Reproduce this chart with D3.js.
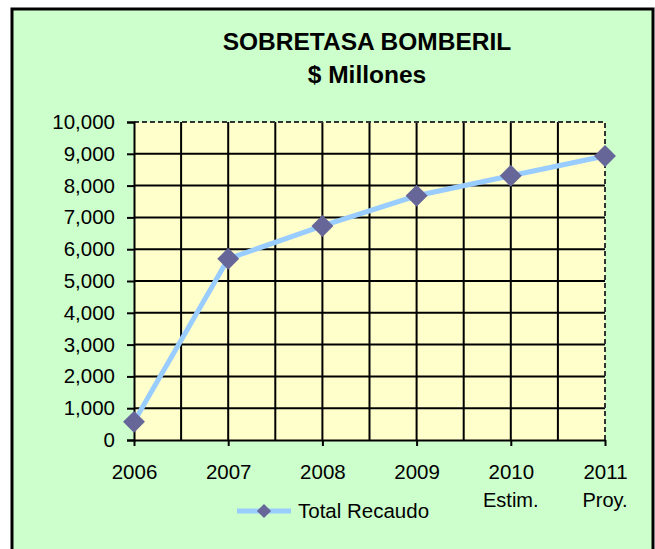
<!DOCTYPE html>
<html>
<head>
<meta charset="utf-8">
<script src="https://cdn.jsdelivr.net/npm/d3@7"></script>
<style>
  body { margin: 0; background: #fff; }
  svg { display: block; font-family: "Liberation Sans", Arial, sans-serif; }
</style>
</head>
<body>
<svg id="chart"></svg>
<script>
// data
var years = ["2006", "2007", "2008", "2009", "2010", "2011"];
var yearNotes = ["", "", "", "", "Estim.", "Proy."];
var recaudo = [570, 5700, 6730, 7680, 8310, 8930];
var yTicks = [0, 1000, 2000, 3000, 4000, 5000, 6000, 7000, 8000, 9000, 10000];
var seriesName = "Total Recaudo";

var svgWidth = 655, svgHeight = 549;
var plotL = 134, plotR = 605, plotT = 122, plotB = 440;

var svg = d3.select("#chart")
    .attr("width", svgWidth)
    .attr("height", svgHeight);

// outer frame
svg.append("rect")
    .attr("x", 12).attr("y", 9)
    .attr("width", 641).attr("height", 560)
    .attr("fill", "#ccffcc")
    .attr("stroke", "#000")
    .attr("stroke-width", 3);

// title
svg.append("text")
    .attr("x", 367).attr("y", 50)
    .attr("text-anchor", "middle")
    .attr("font-size", 24.5).attr("font-weight", "bold")
    .text("SOBRETASA BOMBERIL");
svg.append("text")
    .attr("x", 367).attr("y", 83)
    .attr("text-anchor", "middle")
    .attr("font-size", 24.5).attr("font-weight", "bold")
    .text("$ Millones");

var x = d3.scalePoint().domain(years).range([plotL, plotR]);
var y = d3.scaleLinear().domain([0, 10000]).range([plotB, plotT]);

// plot area
svg.append("rect")
    .attr("x", plotL).attr("y", plotT)
    .attr("width", plotR - plotL).attr("height", plotB - plotT)
    .attr("fill", "#ffffcc");

// horizontal gridlines
svg.append("g").selectAll("line")
    .data(yTicks.filter(function(d) { return d > 0 && d < 10000; }))
    .enter().append("line")
    .attr("x1", plotL).attr("x2", plotR)
    .attr("y1", function(d) { return y(d); })
    .attr("y2", function(d) { return y(d); })
    .attr("stroke", "#000").attr("stroke-width", 2);

// vertical gridlines at every half step
var step = x.step();
var vLines = [];
years.forEach(function(yr, i) {
  if (i > 0) vLines.push(x(yr));
  if (i < years.length - 1) vLines.push(x(yr) + step / 2);
});
svg.append("g").selectAll("line")
    .data(vLines.filter(function(v) { return v < plotR - 1; }))
    .enter().append("line")
    .attr("x1", function(d) { return d; })
    .attr("x2", function(d) { return d; })
    .attr("y1", plotT).attr("y2", plotB)
    .attr("stroke", "#000").attr("stroke-width", 2);

// dashed top and right border of the plot
svg.append("path")
    .attr("d", "M" + plotL + "," + plotT + "H" + plotR + "V" + plotB)
    .attr("fill", "none")
    .attr("stroke", "#333")
    .attr("stroke-width", 2)
    .attr("stroke-dasharray", "5,3");

// y axis
var yAxis = svg.append("g")
    .attr("transform", "translate(" + plotL + ",0)")
    .call(d3.axisLeft(y).tickValues(yTicks).tickFormat(d3.format(",")).tickSize(7).tickPadding(12));
yAxis.select(".domain").attr("stroke-width", 2);
yAxis.selectAll(".tick line").attr("stroke-width", 2);
yAxis.selectAll("text")
    .attr("font-size", 20.5)
    .attr("font-family", "Liberation Sans, Arial, sans-serif")
    .attr("fill", "#000");

// x axis
var xAxis = svg.append("g")
    .attr("transform", "translate(0," + plotB + ")")
    .call(d3.axisBottom(x).tickSize(6).tickPadding(18).tickSizeOuter(0));
xAxis.select(".domain").attr("stroke-width", 2);
xAxis.selectAll(".tick line").attr("stroke-width", 2);
xAxis.selectAll(".tick text")
    .attr("font-size", 20.5)
    .attr("font-family", "Liberation Sans, Arial, sans-serif")
    .attr("fill", "#000");

svg.append("g").selectAll("text")
    .data(years.map(function(d, i) { return { year: d, note: yearNotes[i] }; }))
    .enter().append("text")
    .attr("x", function(d) { return x(d.year); })
    .attr("y", 507)
    .attr("text-anchor", "middle")
    .attr("font-size", 20)
    .text(function(d) { return d.note; });

// series
var line = d3.line()
    .x(function(d, i) { return x(years[i]); })
    .y(function(d) { return y(d); });

svg.append("path")
    .datum(recaudo)
    .attr("d", line)
    .attr("fill", "none")
    .attr("stroke", "#99ccff")
    .attr("stroke-width", 5);

var diamond = d3.symbol().type(d3.symbolSquare).size(240);
svg.append("g").selectAll("path")
    .data(recaudo)
    .enter().append("path")
    .attr("d", diamond)
    .attr("transform", function(d, i) {
      return "translate(" + x(years[i]) + "," + y(d) + ") rotate(45)";
    })
    .attr("fill", "#666699");

// legend
var legend = svg.append("g");
legend.append("line")
    .attr("x1", 237).attr("x2", 291)
    .attr("y1", 511).attr("y2", 511)
    .attr("stroke", "#99ccff").attr("stroke-width", 5);
legend.append("path")
    .attr("d", d3.symbol().type(d3.symbolSquare).size(100))
    .attr("transform", "translate(264,511) rotate(45)")
    .attr("fill", "#666699");
legend.append("text")
    .attr("x", 298).attr("y", 518)
    .attr("font-size", 20.5)
    .text(seriesName);
</script>
</body>
</html>
